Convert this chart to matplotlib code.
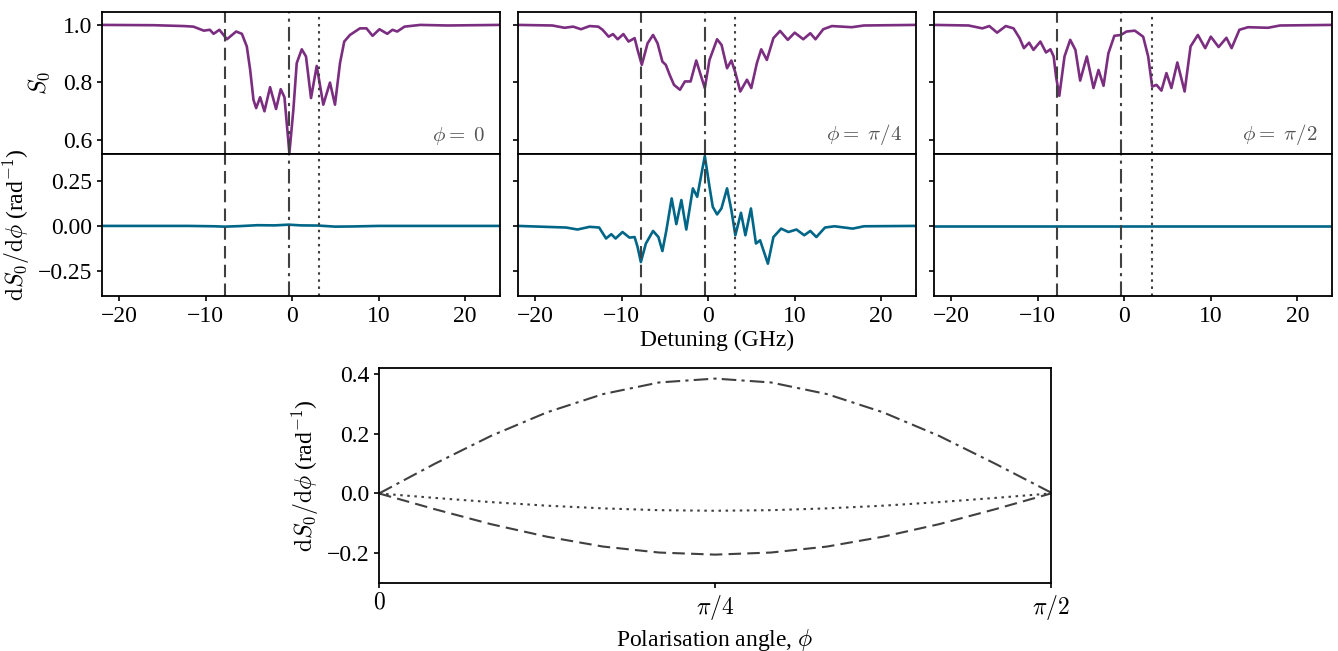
import matplotlib as mpl
from matplotlib import pyplot as plt
import numpy as np

mpl.rcParams["font.family"] = ["Liberation Serif", "DejaVu Serif"]
mpl.rcParams["mathtext.fontset"] = "cm"
mpl.rcParams["font.size"] = 17
mpl.rcParams["axes.linewidth"] = 1.3
mpl.rcParams["xtick.major.width"] = 1.2
mpl.rcParams["ytick.major.width"] = 1.2
mpl.rcParams["lines.solid_joinstyle"] = "round"

# detunings (GHz) marked by vertical lines, and their line styles
mark_det = [-7.8, -0.4, 3.15]
mark_style = [(0, (6, 3)), (0, (7, 2.5, 1.5, 2.5)), (0, (1.2, 2.2))]

# phi = 0 : transmission S0
det_a = [-22, -16, -12.5, -11.4, -10.2, -9.5, -9.07, -8.4, -7.92, -7.53, -6.46, -5.8, -5.23,
         -4.84, -4.46, -4.15, -3.69, -3.19, -2.54, -1.85, -1.31, -0.88, -0.31, 0.15, 0.54,
         1.12, 1.61, 2.19, 2.85, 3.61, 4.38, 4.96, 5.54, 6.03, 6.69, 7.84, 8.6, 9.3, 10.1,
         11.0, 11.6, 12.15, 13.0, 14.8, 18, 24]
s0_a = [1.0, 0.999, 0.996, 0.994, 0.980, 0.983, 0.969, 0.983, 0.965, 0.950, 0.977, 0.969, 0.925,
        0.843, 0.739, 0.710, 0.748, 0.699, 0.783, 0.707, 0.776, 0.748, 0.554, 0.704, 0.867,
        0.915, 0.890, 0.745, 0.857, 0.722, 0.799, 0.722, 0.867, 0.942, 0.965, 0.988, 0.988, 0.962, 0.985,
        0.969, 0.983, 0.977, 0.994, 1.0, 0.998, 1.0]
# phi = 0 : derivative
det_da = [-22, -12, -9, -7.8, -6, -4, -2, -0.4, 1, 3, 5, 7, 10, 24]
ds_a = [0, 0, -0.002, -0.004, -0.001, 0.004, 0.003, 0.007, 0.003, 0.002, -0.004, -0.003, 0, 0]

# phi = pi/4 : transmission S0
det_b = [-22, -18, -16.6, -15.6, -14.7, -13.7, -12.7, -12.2, -11.5, -11.0, -10.46, -9.8, -9.2,
         -8.5, -8.16, -7.67, -7.0, -6.37, -5.85, -5.29, -4.9, -4.45, -3.95, -3.26, -2.69, -2.03,
         -1.38, -0.87, -0.39, 0.15, 1.03, 1.55, 2.18, 2.68, 3.14, 3.71, 4.48, 4.98, 5.63, 6.13,
         6.78, 7.54, 8.31, 9.2, 10.0, 10.99, 11.8, 12.4, 13.3, 14.3, 16.6, 18, 24]
s0_b = [1.0, 0.998, 0.990, 0.994, 0.985, 0.996, 0.994, 0.983, 0.959, 0.968, 0.950, 0.968, 0.942,
        0.954, 0.913, 0.861, 0.936, 0.965, 0.936, 0.872, 0.861, 0.826, 0.791, 0.774, 0.803, 0.803,
        0.876, 0.826, 0.780, 0.878, 0.950, 0.930, 0.849, 0.876, 0.834, 0.768, 0.809, 0.780, 0.867, 0.915,
        0.878, 0.954, 0.979, 0.948, 0.973, 0.950, 0.971, 0.950, 0.985, 0.996, 0.992, 0.998, 1.0]
# phi = pi/4 : derivative
det_db = [-22, -16.4, -15.1, -13.7, -12.6, -11.8, -11.2, -10.7, -9.9, -9.1, -8.5, -8.16, -7.78,
          -7.2, -6.37, -5.75, -5.29, -4.83, -4.22, -3.68, -3.1, -2.53, -1.77, -1.27, -0.39, 0.15,
          0.53, 1.03, 1.53, 2.18, 2.68, 3.14, 3.79, 4.3, 4.94, 5.52, 6.0, 6.9, 7.54, 8.43, 9.27,
          10.2, 11.1, 11.8, 12.5, 13.5, 14.6, 16.7, 18, 24]
ds_b = [0, -0.009, -0.02, -0.005, -0.009, -0.07, -0.046, -0.07, -0.034, -0.065, -0.062, -0.117, -0.201,
        -0.098, -0.028, -0.062, -0.14, -0.024, 0.153, 0.01, 0.144, -0.02, 0.209, 0.162, 0.389, 0.218,
        0.106, 0.064, 0.097, 0.209, 0.088, -0.052, 0.073, -0.052, 0.097, -0.098, -0.08, -0.21, -0.062,
        -0.015, -0.034, -0.02, -0.052, -0.028, -0.062, -0.009, -0.002, -0.015, -0.002, 0]

# phi = pi/2 : transmission S0
det_c = [-22, -18, -16.4, -15.6, -14.7, -13.7, -12.8, -12.1, -11.6, -11.0, -10.5, -9.7, -9.05,
         -8.54, -8.16, -7.89, -7.51, -6.91, -6.25, -5.65, -5.1, -4.33, -3.56, -2.98, -2.4, -1.84,
         -1.15, -0.39, 0.26, 1.22, 2.18, 2.76, 3.22, 3.72, 4.29, 4.87, 5.44, 6.13, 6.97, 7.66,
         8.5, 9.35, 10.0, 10.9, 11.8, 12.4, 13.3, 14.3, 16.6, 18, 24]
s0_c = [1.0, 0.998, 0.988, 0.996, 0.973, 0.996, 0.988, 0.954, 0.919, 0.938, 0.913, 0.942, 0.904,
        0.915, 0.890, 0.820, 0.753, 0.890, 0.948, 0.913, 0.806, 0.890, 0.780, 0.843, 0.788, 0.901,
        0.962, 0.965, 0.977, 0.980, 0.959, 0.890, 0.785, 0.791, 0.771, 0.832, 0.780, 0.869, 0.768, 0.925,
        0.965, 0.919, 0.959, 0.923, 0.955, 0.919, 0.983, 0.992, 0.990, 0.998, 1.0]
# phi = pi/2 : derivative
det_dc = [-22, 24]
ds_c = [0, 0]

# bottom panel: derivative against polarisation angle at the three marked detunings
phi = [0, np.pi/24, np.pi/12, np.pi/8, np.pi/6, 5*np.pi/24, np.pi/4,
       7*np.pi/24, np.pi/3, 3*np.pi/8, 5*np.pi/12, 11*np.pi/24, np.pi/2]
ds_m8 = [0, -0.053, -0.103, -0.145, -0.178, -0.198, -0.205, -0.198, -0.178, -0.145, -0.103, -0.053, 0]
ds_m04 = [0, 0.100, 0.193, 0.272, 0.333, 0.372, 0.385, 0.372, 0.333, 0.272, 0.193, 0.100, 0.003]
ds_p3 = [0, -0.015, -0.029, -0.041, -0.050, -0.056, -0.058, -0.056, -0.050, -0.041, -0.029, -0.015, 0]

phi_labels = [r"$\phi =\ 0$", r"$\phi =\ \pi/4$", r"$\phi =\ \pi/2$"]
purple = "#7b2d80"
teal = "#006688"
grey = "#404040"

fig = plt.figure(figsize=(13.38, 6.51), dpi=100)
lefts = [0.076, 0.387, 0.698]
w = 0.2975

panels = [(det_a, s0_a, det_da, ds_a), (det_b, s0_b, det_db, ds_b), (det_c, s0_c, det_dc, ds_c)]
for i, (xs, ys, xd, yd) in enumerate(panels):
    ax1 = fig.add_axes([lefts[i], 0.7634, w, 0.2186])
    ax2 = fig.add_axes([lefts[i], 0.5453, w, 0.2181], sharex=ax1)
    ax1.plot(xs, ys, color=purple, lw=1.9)
    ax2.plot(xd, yd, color=teal, lw=1.9)
    for ax in (ax1, ax2):
        for d, ls in zip(mark_det, mark_style):
            ax.axvline(d, color=grey, lw=1.5, linestyle=ls)
    ax1.set_xlim(-22, 24)
    ax1.set_ylim(0.55, 1.046)
    ax1.set_yticks([0.6, 0.8, 1.0])
    ax2.set_ylim(-0.39, 0.40)
    ax2.set_yticks([-0.25, 0, 0.25])
    ax2.set_xticks([-20, -10, 0, 10, 20])
    ax1.tick_params(bottom=False, labelbottom=False)
    ax1.text(0.965, 0.05, phi_labels[i], transform=ax1.transAxes, ha="right", va="bottom",
             color="#555555", fontsize=15)
    if i == 0:
        ax1.set_ylabel(r"$S_0$")
        ax2.set_ylabel(r"$\mathrm{d}S_0/\mathrm{d}\phi$ (rad$^{-1}$)")
        ax1.yaxis.set_label_coords(-0.125, 0.5)
        ax2.yaxis.set_label_coords(-0.175, 0.5)
    else:
        ax1.tick_params(labelleft=False)
        ax2.tick_params(labelleft=False)
    if i == 1:
        ax2.set_xlabel("Detuning (GHz)", labelpad=2)

ax3 = fig.add_axes([0.2833, 0.1045, 0.5022, 0.330])
ax3.plot(phi, ds_m04, color=grey, lw=1.5, linestyle=mark_style[1])
ax3.plot(phi, ds_m8, color=grey, lw=1.5, linestyle=mark_style[0])
ax3.plot(phi, ds_p3, color=grey, lw=1.5, linestyle=mark_style[2])
ax3.set_xlim(0, np.pi/2)
ax3.set_ylim(-0.3, 0.42)
ax3.set_yticks([-0.2, 0, 0.2, 0.4])
ax3.set_xticks([0, np.pi/4, np.pi/2])
ax3.set_xticklabels([r"$0$", r"$\pi/4$", r"$\pi/2$"])
ax3.set_xlabel(r"Polarisation angle, $\phi$")
ax3.set_ylabel(r"$\mathrm{d}S_0/\mathrm{d}\phi$ (rad$^{-1}$)")

plt.savefig("out.png", dpi=100)
